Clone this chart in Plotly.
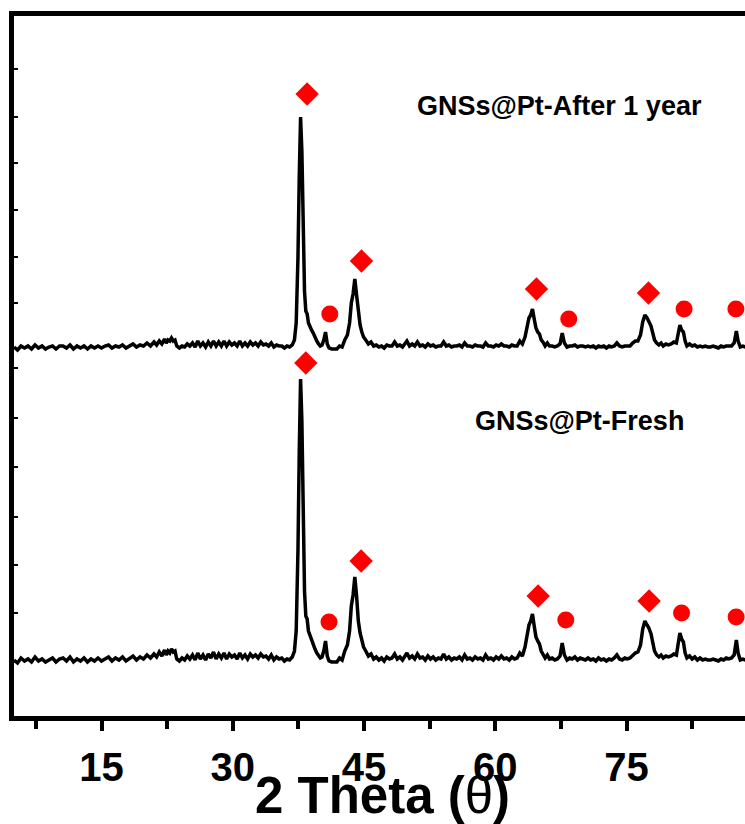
import plotly.graph_objects as go

# 2-theta sampling positions (degrees)
two_theta = [
    5.0, 5.4, 5.8, 6.2, 6.6, 7.0, 7.4, 7.8, 8.2, 8.6, 9.0, 9.4, 9.8, 10.2, 10.6, 11.0, 11.4, 11.8,
    12.2, 12.6, 13.0, 13.4, 13.8, 14.2, 14.6, 15.0, 15.4, 15.8, 16.2, 16.6, 17.0, 17.4, 17.8, 18.2,
    18.6, 19.0, 19.4, 19.8, 20.2, 20.6, 21.0, 21.3, 21.6, 21.9, 22.2, 22.4, 22.6, 22.8, 23.0, 23.2,
    23.4, 23.6, 23.9, 24.2, 24.5, 24.8, 25.1, 25.4, 25.7, 26.0, 26.3, 26.6, 26.9, 27.2, 27.5, 27.8,
    28.1, 28.4, 28.7, 29.0, 29.3, 29.6, 29.9, 30.2, 30.5, 30.8, 31.1, 31.4, 31.7, 32.0, 32.3, 32.6,
    32.9, 33.2, 33.5, 33.8, 34.1, 34.4, 34.7, 35.0, 35.3, 35.6, 35.9, 36.2, 36.5, 36.8, 37.05, 37.25,
    37.45, 37.6, 37.75, 37.9, 38.05, 38.2, 38.35, 38.5, 38.65, 38.8, 39.0, 39.2, 39.4, 39.6, 39.8,
    40.0, 40.2, 40.4, 40.6, 40.8, 41.0, 41.3, 41.6, 41.9, 42.2, 42.5, 42.8, 43.1, 43.35, 43.55, 43.75,
    43.95, 44.15, 44.35, 44.55, 44.75, 44.95, 45.2, 45.5, 45.8, 46.1, 46.4, 46.7, 47.0, 47.3, 47.6,
    47.9, 48.2, 48.5, 48.8, 49.1, 49.4, 49.7, 49.9, 50.2, 50.5, 50.8, 51.1, 51.4, 51.7, 52.0, 52.3,
    52.6, 52.9, 53.2, 53.5, 53.8, 54.1, 54.4, 54.7, 55.0, 55.3, 55.6, 55.9, 56.2, 56.5, 56.8, 57.1,
    57.4, 57.7, 58.0, 58.3, 58.6, 58.9, 59.2, 59.5, 59.8, 60.1, 60.4, 60.7, 61.0, 61.3, 61.6, 61.9,
    62.2, 62.5, 62.8, 63.1, 63.4, 63.65, 63.85, 64.05, 64.25, 64.45, 64.65, 64.85, 65.05, 65.25,
    65.45, 65.7, 65.95, 66.2, 66.5, 66.8, 67.1, 67.4, 67.65, 67.9, 68.2, 68.5, 68.8, 69.1, 69.4,
    69.7, 70.0, 70.3, 70.6, 70.9, 71.2, 71.5, 71.8, 72.1, 72.4, 72.7, 73.0, 73.3, 73.6, 73.9, 74.2,
    74.5, 74.8, 75.1, 75.4, 75.7, 76.0, 76.3, 76.6, 76.85, 77.1, 77.35, 77.55, 77.8, 78.0, 78.2,
    78.45, 78.7, 78.95, 79.2, 79.5, 79.8, 80.1, 80.4, 80.7, 80.95, 81.1, 81.3, 81.5, 81.7, 81.9,
    82.2, 82.5, 82.8, 83.1, 83.4, 83.7, 84.0, 84.3, 84.6, 84.9, 85.2, 85.5, 85.8, 86.1, 86.4, 86.7,
    87.0, 87.3, 87.55, 87.75, 88.0, 88.3, 88.6,
]

# Intensity above each pattern's own baseline (a.u.)
fresh_intensity = [
    1, -2, 3, 0, 2, -1, 4, 0, 2, -1, 1, 3, -1, 2, 3, 0, 4, -1,
    2, 0, 3, -1, 2, 0, 3, 0, 2, 4, 0, 3, 1, 4, 0, 3,
    5, 1, 4, 2, 6, 3, 7, 4, 9, 5, 11, 6, 10, 8, 12, 9,
    10, 2, 0, 3, 1, 5, 2, 6, 1, 8, 2, 6, 1, 7, 3, 9,
    2, 7, 3, 8, 2, 7, 4, 6, 2, 8, 3, 6, 2, 7, 4, 6,
    3, 7, 4, 5, 2, 6, 1, 4, 2, 3, 0, 2, 1, 4, 10, 30,
    110, 210, 282, 240, 140, 70, 45, 42, 30, 26, 22, 18, 12, 8, 5,
    3, 4, 10, 20, 5, 0, -1, -1, -1, 3, 1, 10, 16, 30, 55, 66,
    84, 65, 40, 28, 19, 14, 10, 5, 7, 2, 4, 1, 3, 0, 4,
    2, 3, 7, 2, 4, 1, 5, 8, 3, 5, 2, 7, 3, 4, 1, 5,
    2, 4, 1, 3, 2, 7, 2, 4, 1, 3, 2, 4, 1, 6, 2, 3,
    1, 4, 2, 3, 1, 6, 2, 3, 1, 4, 2, 5, 2, 3, 1, 4,
    2, 3, 8, 5, 14, 28, 36, 40, 47, 35, 24, 20, 17, 10,
    7, 3, 6, 2, 3, 1, 2, 5, 18, 6, 1, 3, 2, 4, 1,
    3, 2, 1, 3, 1, 2, 0, 3, 1, 2, 0, 2, 1, 3, 6, 2,
    1, 3, 2, 3, 6, 8, 9, 16, 32, 40, 36, 33, 27, 18, 10,
    6, 4, 6, 3, 5, 4, 5, 7, 6, 18, 28, 22, 19, 8, 3,
    5, 2, 4, 1, 3, 1, 2, 1, 1, 2, 1, 0, 2, 1, 3, 2,
    3, 6, 21, 8, 1, 2, 1,
]

after_intensity = [
    1, -2, 2, 0, 2, -1, 3, 0, 2, -1, 1, 2, -1, 2, 2, 0, 3, -1,
    2, 0, 2, -1, 2, 0, 2, 0, 2, 3, 0, 2, 1, 3, 0, 2,
    4, 1, 3, 2, 5, 2, 6, 3, 7, 4, 9, 5, 8, 7, 10, 7,
    8, 2, 0, 2, 1, 4, 2, 5, 1, 7, 2, 5, 1, 6, 2, 7,
    2, 6, 2, 7, 2, 6, 3, 5, 2, 7, 2, 5, 2, 6, 3, 5,
    2, 6, 3, 4, 2, 5, 1, 3, 2, 2, 0, 2, 1, 3, 8, 25,
    90, 172, 231, 197, 115, 57, 37, 34, 25, 21, 18, 15, 10, 7, 4,
    2, 3, 8, 16, 4, 0, -1, -1, -1, 2, 1, 8, 13, 25, 45, 54,
    69, 53, 33, 23, 16, 11, 8, 4, 6, 2, 3, 1, 2, 0, 3,
    2, 2, 6, 2, 3, 1, 4, 7, 2, 4, 2, 6, 2, 3, 1, 4,
    2, 3, 1, 2, 2, 6, 2, 3, 1, 2, 2, 3, 1, 5, 2, 2,
    1, 3, 2, 2, 1, 5, 2, 2, 1, 3, 2, 4, 2, 2, 1, 3,
    2, 2, 7, 4, 11, 23, 30, 33, 39, 29, 20, 16, 14, 8,
    6, 2, 5, 2, 2, 1, 2, 4, 15, 5, 1, 2, 2, 3, 1,
    2, 2, 1, 2, 1, 2, 0, 2, 1, 2, 0, 2, 1, 2, 5, 2,
    1, 2, 2, 2, 5, 7, 7, 13, 26, 33, 30, 27, 22, 15, 8,
    5, 3, 5, 2, 4, 3, 4, 6, 5, 15, 23, 18, 16, 7, 2,
    4, 2, 3, 1, 2, 1, 2, 1, 1, 2, 1, 0, 2, 1, 2, 2,
    2, 5, 17, 7, 1, 2, 1,
]

# Vertical offsets used to stack the two patterns
fresh_offset = 55
after_offset = 368

# Phase markers (diamond / circle) positions
fresh_diamond_x = [38.35, 44.67, 64.9, 77.58]
fresh_diamond_y = [353, 155, 120, 115]
fresh_circle_x = [41.0, 68.06, 81.29, 87.53]
fresh_circle_y = [94, 96, 103, 99]
after_diamond_x = [38.5, 44.71, 64.71, 77.51]
after_diamond_y = [622, 455, 427, 423]
after_circle_x = [41.09, 68.4, 81.58, 87.5]
after_circle_y = [402, 397, 407, 407]

labels = ["GNSs@Pt-After 1 year", "GNSs@Pt-Fresh"]
label_x = [67.3, 69.6]
label_y = [610, 295]

x_tick_vals = [15, 30, 45, 60, 75]
x_tick_text = ["15", "30", "45", "60", "75"]
y_tick_vals = [54, 103, 151, 199, 249, 298, 348, 413, 459, 506, 553, 599, 647]

fig = go.Figure()
fig.add_trace(go.Scatter(x=two_theta, y=[v + after_offset for v in after_intensity],
                         mode="lines", line=dict(color="black", width=3.5), showlegend=False))
fig.add_trace(go.Scatter(x=two_theta, y=[v + fresh_offset for v in fresh_intensity],
                         mode="lines", line=dict(color="black", width=3.5), showlegend=False))
for dx, dy in [(fresh_diamond_x, fresh_diamond_y), (after_diamond_x, after_diamond_y)]:
    fig.add_trace(go.Scatter(x=dx, y=dy, mode="markers", showlegend=False,
                             marker=dict(symbol="diamond", size=18, color="#ff0000")))
for cx, cy in [(fresh_circle_x, fresh_circle_y), (after_circle_x, after_circle_y)]:
    fig.add_trace(go.Scatter(x=cx, y=cy, mode="markers", showlegend=False,
                             marker=dict(symbol="circle", size=17, color="#ff0000")))

for t, lx, ly in zip(labels, label_x, label_y):
    fig.add_annotation(x=lx, y=ly, text=t, showarrow=False, xanchor="center", yanchor="middle",
                       font=dict(family="Liberation Sans", size=27, color="black", weight="bold"))

# x-axis title placed below the tick labels
fig.add_annotation(xref="paper", yref="paper", x=0.504, y=-0.113, xanchor="center", yanchor="middle",
                   text="<b>2 Theta (</b>θ<b>)</b>", showarrow=False,
                   font=dict(family="Liberation Sans", size=51, color="black"))

fig.update_layout(
    width=745, height=824,
    margin=dict(l=14, r=0, t=16, b=108),
    plot_bgcolor="white", paper_bgcolor="white",
    showlegend=False,
)
fig.update_xaxes(
    range=[5, 88.54], showgrid=False, zeroline=False,
    showline=True, linecolor="black", linewidth=5, mirror=True,
    ticks="outside", ticklen=10, tickwidth=4, tickcolor="black",
    tickvals=x_tick_vals, ticktext=x_tick_text, ticklabelstandoff=2,
    tickfont=dict(family="Liberation Sans", size=40, color="black", weight="bold"),
    minor=dict(ticks="outside", tick0=7.5, dtick=15, ticklen=8, tickwidth=4, tickcolor="black", showgrid=False),
)
fig.update_yaxes(
    range=[0, 700], showgrid=False, zeroline=False,
    showline=True, linecolor="black", linewidth=5, mirror=False,
    ticks="inside", ticklen=4, tickwidth=2, tickcolor="black",
    tickvals=y_tick_vals, showticklabels=False,
)

fig.write_html("out.html")
